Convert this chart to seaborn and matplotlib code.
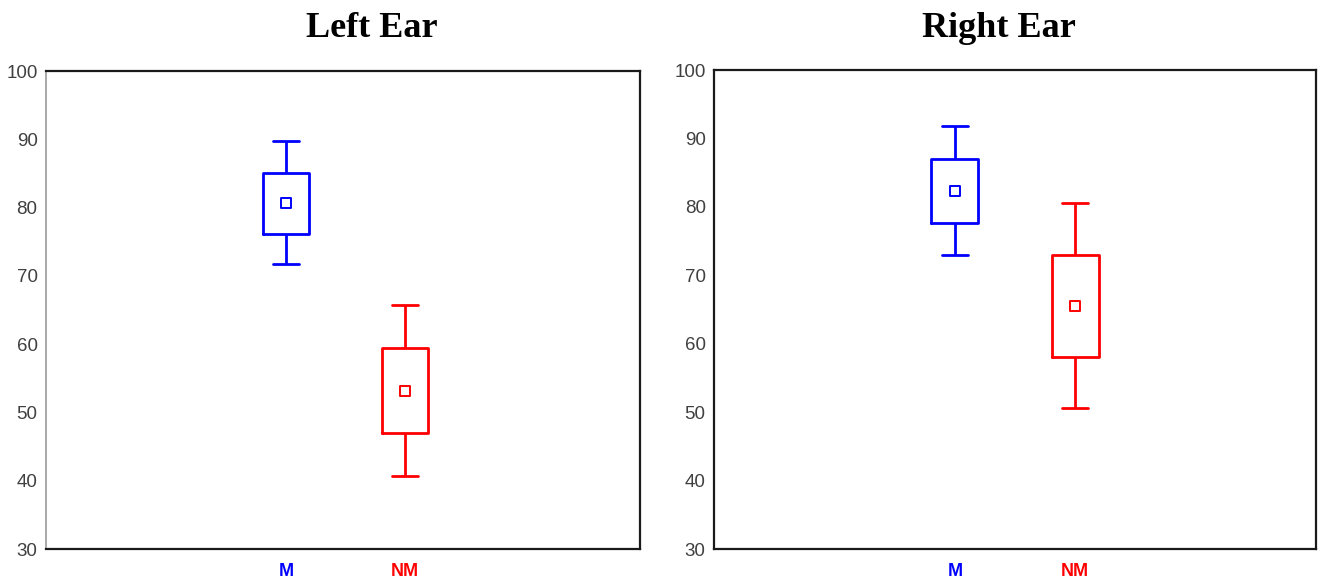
import pandas as pd
import matplotlib
matplotlib.use("Agg")
import matplotlib.pyplot as plt
import seaborn as sns

# values: whisker low, box low, mean, box high, whisker high
groups = ["M", "NM"]
left_m = [71.7, 76.1, 80.6, 85.1, 89.8]
left_nm = [40.7, 47.0, 53.2, 59.4, 65.7]
right_m = [73.0, 77.6, 82.3, 87.0, 91.8]
right_nm = [50.6, 58.0, 65.5, 73.0, 80.6]
left_means = [80.6, 53.2]
right_means = [82.3, 65.5]

colors = {"M": "#0000ff", "NM": "#ff0000"}
yticks = [30, 40, 50, 60, 70, 80, 90, 100]


def make_df(m_vals, nm_vals):
    return pd.DataFrame({
        "group": ["M"] * len(m_vals) + ["NM"] * len(nm_vals),
        "value": m_vals + nm_vals,
    })


def draw_panel(ax, df, means, left_spine_color, xlim):
    sns.boxplot(
        data=df, x="group", y="value", hue="group", order=groups,
        palette=colors, fill=False, width=0.39, whis=(0, 100),
        linewidth=2.0, legend=False, ax=ax,
        medianprops={"visible": False},
        showfliers=False,
    )
    for i, g in enumerate(groups):
        ax.scatter([i], [means[i]], marker="s", s=55,
                   facecolor="white", edgecolor=colors[g], linewidth=1.4, zorder=5)
    # widen the caps a little
    for line in ax.lines:
        xd = list(line.get_xdata())
        yd = list(line.get_ydata())
        if len(xd) == 2 and yd[0] == yd[1] and abs(xd[1] - xd[0]) > 0.01:
            c = (xd[0] + xd[1]) / 2
            line.set_xdata([c - 0.11, c + 0.11])
    ax.set_xlim(*xlim)
    ax.set_ylim(30, 100)
    ax.set_yticks(yticks)
    ax.set_xlabel("")
    ax.set_ylabel("")
    ax.tick_params(axis="y", length=0, pad=6)
    ax.tick_params(axis="x", length=0, pad=10)
    for lab in ax.get_yticklabels():
        lab.set_fontsize(13.5)
        lab.set_color("#404040")
    for lab, g in zip(ax.get_xticklabels(), groups):
        lab.set_color(colors[g])
        lab.set_fontweight("bold")
        lab.set_fontsize(13)
    for side in ["top", "bottom", "right"]:
        ax.spines[side].set_color("#1a1a1a")
        ax.spines[side].set_linewidth(1.6)
    ax.spines["left"].set_color(left_spine_color)
    ax.spines["left"].set_linewidth(1.2 if left_spine_color != "#1a1a1a" else 1.6)


sns.set_style("white")
plt.rcParams["font.family"] = ["Liberation Sans", "DejaVu Sans"]

fig = plt.figure(figsize=(13.24, 5.84), dpi=100)
ax1 = fig.add_axes([0.0347, 0.0599, 0.4487, 0.8185])
ax2 = fig.add_axes([0.5393, 0.0599, 0.4547, 0.8202])

draw_panel(ax1, make_df(left_m, left_nm), left_means, "#999999", (-2.02, 2.98))
draw_panel(ax2, make_df(right_m, right_nm), right_means, "#1a1a1a", (-2.0, 3.0))

fig.text(372 / 1324, 1 - 37 / 584, "Left Ear", ha="center", va="baseline",
         fontsize=26, fontweight="bold", family="Liberation Serif", color="black")
fig.text(999 / 1324, 1 - 37 / 584, "Right Ear", ha="center", va="baseline",
         fontsize=26, fontweight="bold", family="Liberation Serif", color="black")

fig.savefig("out.png", dpi=100)
